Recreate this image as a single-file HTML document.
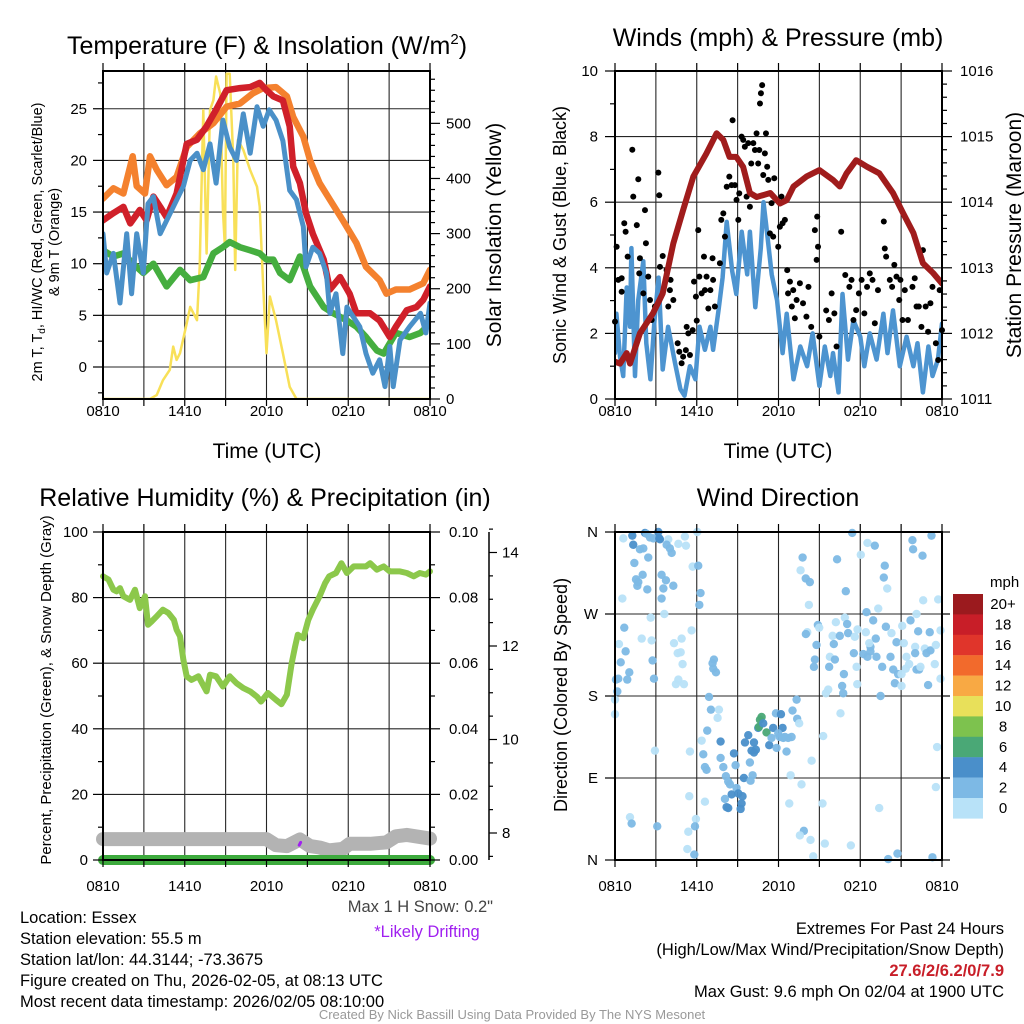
<!DOCTYPE html>
<html><head><meta charset="utf-8"><style>
html,body{margin:0;padding:0;background:#fff;}
svg{display:block;font-family:"Liberation Sans",Arial,sans-serif;}
</style></head><body>
<svg id="fig" width="1024" height="1024" viewBox="0 0 1024 1024" xmlns="http://www.w3.org/2000/svg">
<rect x="0" y="0" width="1024" height="1024" fill="#fff"/>
<g id="grids"></g>
<g id="series"></g>
<g id="axes"></g>
<g id="texts" font-size="14" fill="#000">
<text x="267" y="54" font-size="25" text-anchor="middle">Temperature (F) &amp; Insolation (W/m<tspan font-size="15" dy="-10">2</tspan><tspan dy="10">)</tspan></text>
<text x="778" y="46" font-size="25" text-anchor="middle">Winds (mph) &amp; Pressure (mb)</text>
<text x="265" y="506" font-size="25" text-anchor="middle">Relative Humidity (%) &amp; Precipitation (in)</text>
<text x="778" y="506" font-size="25" text-anchor="middle">Wind Direction</text>
<text x="267" y="458" font-size="21" text-anchor="middle">Time (UTC)</text>
<text x="778" y="458" font-size="21" text-anchor="middle">Time (UTC)</text>
<text transform="translate(42,242) rotate(-90)" font-size="14.5" text-anchor="middle">2m T, T<tspan font-size="10" dy="3">d</tspan><tspan dy="-3">, HI/WC (Red, Green, Scarlet/Blue)</tspan></text>
<text transform="translate(59,242) rotate(-90)" font-size="14.5" text-anchor="middle">&amp; 9m T (Orange)</text>
<text transform="translate(501,235) rotate(-90)" font-size="21" text-anchor="middle">Solar Insolation (Yellow)</text>
<text transform="translate(566,235) rotate(-90)" font-size="18" text-anchor="middle">Sonic Wind &amp; Gust (Blue, Black)</text>
<text transform="translate(1021,235) rotate(-90)" font-size="21" text-anchor="middle">Station Pressure (Maroon)</text>
<text transform="translate(51,690) rotate(-90)" font-size="15" text-anchor="middle">Percent, Precipitation (Green), &amp; Snow Depth (Gray)</text>
<text transform="translate(567,695) rotate(-90)" font-size="18" text-anchor="middle">Direction (Colored By Speed)</text>
<text x="493" y="912" font-size="16.5" text-anchor="end" fill="#444">Max 1 H Snow: 0.2"</text>
<text x="427" y="937" font-size="16.5" text-anchor="middle" fill="#a020f0">*Likely Drifting</text>
<g font-size="16.5">
<text x="20" y="923">Location: Essex</text>
<text x="20" y="944">Station elevation: 55.5 m</text>
<text x="20" y="965">Station lat/lon: 44.3144; -73.3675</text>
<text x="20" y="986">Figure created on Thu, 2026-02-05, at 08:13 UTC</text>
<text x="20" y="1007">Most recent data timestamp: 2026/02/05 08:10:00</text>
</g>
<g font-size="16.5" text-anchor="end">
<text x="1004" y="934">Extremes For Past 24 Hours</text>
<text x="1004" y="955">(High/Low/Max Wind/Precipitation/Snow Depth)</text>
<text x="1004" y="976" fill="#c81e28" font-weight="bold">27.6/2/6.2/0/7.9</text>
<text x="1004" y="997">Max Gust: 9.6 mph On 02/04 at 1900 UTC</text>
</g>
<text x="512" y="1019" font-size="13" text-anchor="middle" fill="#999">Created By Nick Bassill Using Data Provided By The NYS Mesonet</text>
</g>
</svg>
<script>
// ---------- Panel 1 data ----------
const orangeT=[0,0.76,1.5,2.18,2.47,3.08,3.45,3.94,4.67,5.4,6.14,7.1,8.1,9.07,10.05,11.0,11.76,12.7,13.5,13.96,14.7,15.2,15.9,16.65,17.6,18.6,19.3,20.3,20.8,21.5,22.5,23.5,24];
const orangeV=[16.3,17.3,16.8,20.4,17.5,16.8,20.4,19.1,17.6,18.4,21.3,22.6,23.6,25.2,25.5,26.5,27.0,27.1,26.2,24.2,22.3,20.0,17.8,16.2,14.2,12.0,9.7,8.4,7.1,7.5,7.5,8.1,9.4];
const redT=[0,0.76,1.5,2,2.7,3.2,3.7,4.2,4.67,5.4,6.14,6.9,7.6,8.3,9.07,10.05,10.8,11.5,12.0,12.5,13.2,13.7,13.96,14.45,14.9,15.4,16.2,16.65,17.4,18.1,18.6,19.6,20.3,21.05,21.5,22.3,23.0,23.5,24];
const redV=[14.2,14.9,15.5,13.9,15.2,14.2,16.5,15.5,14.5,16.8,21.6,22.0,23.3,24.9,26.8,27.0,27.1,27.5,26.8,26.2,25.8,23.3,19.4,17.8,14.9,12.9,10.4,7.5,8.7,7.1,5.2,5.2,4.5,2.9,3.9,5.5,5.8,6.5,7.8];
const greenT=[0,0.76,1.5,2.2,2.96,3.7,4.67,5.65,6.4,7.36,8.1,8.8,9.3,10.05,10.8,11.5,12.0,12.5,13.0,13.7,14.45,15.2,16.2,16.9,17.9,18.6,19.3,20.1,20.6,21.5,22.5,23.3,24];
const greenV=[11.3,10.7,11.0,10.0,9.1,10.0,7.8,9.4,8.4,8.7,11.0,11.6,12.1,11.6,11.3,11.0,10.4,10.4,9.1,8.4,10.7,7.8,5.8,5.2,4.5,3.9,2.9,1.6,1.3,3.3,2.9,3.3,4.2];
const blueT=[0,0.27,0.76,1.25,1.74,2.1,2.47,2.96,3.3,3.7,4.2,5.9,6.4,6.9,7.36,7.85,8.3,8.8,9.3,9.8,10.3,10.8,11.3,11.76,12.2,12.7,13.2,13.7,14.2,14.7,14.9,15.4,15.9,16.4,16.65,17.1,17.6,17.9,18.4,18.85,19.3,19.8,20.3,20.7,21.05,21.3,21.8,22.5,23.3,23.7,24];
const blueV=[12.9,9.1,11.0,6.2,12.9,7.1,12.9,9.1,15.8,16.5,12.9,17.5,20.0,20.7,19.1,21.6,17.8,23.9,21.3,20.0,24.5,20.7,25.2,23.3,24.9,23.9,21.9,17.1,16.2,13.6,9.7,11.6,11.0,9.1,5.2,7.1,1.3,5.8,4.8,3.9,1.3,-0.6,0.7,-1.9,2.0,-1.9,2.6,3.9,5.2,3.3,6.2];
const solarT=[0,3.45,3.94,4.4,4.9,5.15,5.4,5.65,6.14,6.4,6.9,7.1,7.36,7.6,7.85,8.1,8.3,8.6,8.8,8.95,9.07,9.3,9.56,9.7,9.9,10.3,10.8,11.3,11.5,11.76,12.0,12.25,12.7,13.2,13.7,14.2,24];
const solarV=[0,0,7,34,53,95,71,83,137,167,143,240,524,264,524,542,585,554,343,276,590,590,433,234,470,452,415,385,349,204,83,186,143,83,22,0,0];
const tempYTicks=[0,5,10,15,20,25];
const solarTicks=[0,100,200,300,400,500];
const timeTickHours=[0,6,12,18,24];
const timeTickLabels=["0810","1410","2010","0210","0810"];
// ---------- Panel 2 data ----------
const presT=[0,0.37,0.86,1.1,1.83,2.8,3.5,4.28,5.0,5.75,6.7,7.46,7.95,8.4,8.9,9.4,9.9,10.4,11.4,12.1,12.6,13.1,14.05,15.0,16.0,16.5,17.0,17.7,18.5,19.4,20.4,21.15,21.9,22.6,23.35,24];
const presV=[1011.57,1011.54,1011.70,1011.54,1012.0,1012.31,1012.61,1013.37,1013.88,1014.39,1014.74,1015.05,1014.95,1014.69,1014.69,1014.54,1014.14,1014.08,1014.14,1013.98,1014.03,1014.24,1014.39,1014.49,1014.34,1014.24,1014.44,1014.64,1014.54,1014.44,1014.14,1013.83,1013.53,1013.07,1012.92,1012.76];
const windT=[0,0.1,0.37,0.6,0.86,1.1,1.2,1.47,1.7,2.08,2.3,2.6,2.9,3.2,3.5,3.9,4.4,4.8,5.1,5.5,5.9,6.2,6.6,7.0,7.2,7.6,7.9,8.2,8.6,8.9,9.3,9.7,9.9,10.3,10.7,10.9,11.1,11.5,11.9,12.3,12.6,13.1,13.6,14.1,14.5,15.0,15.4,15.8,16.0,16.4,16.7,17.1,17.5,18.0,18.3,18.7,19.2,19.7,20.0,20.4,20.9,21.4,21.9,22.2,22.6,23.0,23.3,23.7,24];
const windV=[1.4,2.6,1.3,0.7,3.4,2.2,4.6,0.7,3.0,4.2,1.7,0.6,2.4,3.7,0.9,2.2,1.1,0.3,0.1,1.0,0.6,2.2,1.5,2.2,1.5,2.7,3.7,5.4,3.9,3.2,5.1,3.8,5.1,2.8,4.6,6.0,5.3,3.8,3.0,1.4,2.6,0.6,1.6,1.0,2.0,0.4,1.6,0.7,1.4,0.2,3.2,1.2,2.4,1.9,1.0,2.0,1.2,2.6,1.4,2.7,1.0,1.9,1.0,1.7,0.2,1.6,0.7,1.2,2.3];
const gustT=[0,0.12,0.24,0.49,0.49,0.68,0.78,0.93,1.27,1.34,1.6,1.71,1.78,1.83,2.08,2.2,2.27,2.44,2.57,2.69,2.93,3.18,3.25,3.3,3.5,3.79,3.91,4.03,4.08,4.28,4.6,4.72,4.89,5.0,5.2,5.26,5.38,5.5,5.7,5.8,5.94,6.0,6.11,6.19,6.36,6.53,6.6,6.72,6.85,7.0,7.16,7.2,7.33,7.7,7.8,7.95,8.07,8.2,8.39,8.56,8.63,8.8,8.92,9.05,9.12,9.29,9.41,9.53,9.66,9.78,9.9,10.0,10.15,10.27,10.39,10.51,10.59,10.64,10.71,10.8,10.88,11.0,11.08,11.17,11.25,11.37,11.49,11.61,11.69,11.98,12.1,12.22,12.3,12.47,12.64,12.7,12.84,12.98,13.08,13.2,13.33,13.57,13.8,14.05,14.2,14.4,14.67,14.8,14.84,14.9,15.0,15.5,15.7,15.9,16.1,16.26,16.6,16.9,17.2,17.36,17.5,17.7,17.9,18.1,18.3,18.5,18.7,18.9,19.07,19.3,19.73,19.8,19.9,20.17,20.34,20.5,20.66,20.86,20.95,21.1,21.27,21.5,21.83,22.0,22.13,22.3,22.49,22.6,22.8,22.98,23.15,23.3,23.55,23.72,23.83,24];
const gustV=[2.36,4.64,3.63,3.68,3.27,5.36,5.1,4.34,7.6,6.17,5.3,6.7,3.83,4.29,3.22,5.76,4.75,3.73,3.02,2.41,2.82,6.9,6.21,4.03,4.36,3.93,2.82,3.32,3.63,3.02,1.7,1.44,1.09,1.29,1.49,2.2,2.0,1.34,2.1,3.58,3.12,2.39,5.15,3.73,3.22,4.34,3.32,3.73,2.76,3.32,4.29,3.63,2.82,4.14,5.46,5.66,4.95,6.47,6.78,6.52,8.5,6.52,6.07,5.46,6.27,8.0,7.9,7.69,6.17,7.8,5.86,7.18,7.8,7.59,8.1,7.18,7.59,9.01,9.32,9.57,6.83,7.49,8.1,7.08,6.68,5.05,5.97,4.95,6.73,4.64,5.25,6.17,5.36,5.46,3.93,3.22,3.58,2.82,3.32,2.46,3.02,3.53,2.92,2.51,3.42,2.2,5.15,4.24,5.56,4.64,1.9,2.7,2.41,3.22,2.61,1.6,5.1,3.78,3.42,3.63,2.41,2.71,3.22,3.63,2.61,3.42,3.83,3.63,2.31,3.32,5.41,4.59,4.34,3.63,3.42,4.09,3.73,3.02,3.63,2.41,3.32,2.41,3.42,3.68,2.82,2.82,2.2,4.54,2.82,2.05,2.92,3.42,1.7,1.19,3.32,2.1];
const windTicks=[0,2,4,6,8,10];
const presTicks=[1011,1012,1013,1014,1015,1016];
// ---------- Panel 3 data ----------
const rhT=[0,0.4,0.76,1.0,1.25,1.5,1.98,2.35,2.7,3.08,3.3,3.57,3.94,4.4,4.8,5.2,5.4,5.65,5.9,6.14,6.5,7.0,7.6,7.85,8.3,8.8,9.3,9.8,10.3,10.8,11.3,11.6,12.1,12.7,13.1,13.5,13.85,14.1,14.3,14.7,15.07,15.4,15.9,16.3,16.6,17.1,17.5,17.9,18.4,18.85,19.3,19.6,20.1,20.6,21.05,21.8,22.3,22.8,23.25,23.7,24];
const rhV=[86.5,85.5,82.4,81.9,82.9,80.4,79.3,82.4,76.8,80.4,71.7,72.7,74.3,76.3,75.3,73.2,70.2,68.2,61.0,56.0,54.9,56.0,51.4,56.5,56.0,52.9,56.0,53.9,52.4,51.4,49.8,48.3,50.9,48.8,47.5,50.4,60.0,65.1,68.7,67.6,73.2,76.3,80.4,84.4,86.5,87.5,90.5,87.5,89.5,89.5,89.5,90.5,88.5,89.5,88.0,88.0,87.5,86.5,87.5,87.0,88.0];
const snowT=[0,12,12.7,13.5,14.45,15.2,15.9,16.6,17.6,18.1,19.6,20.8,21.5,22.3,24];
const snowV=[7.87,7.87,7.74,7.72,7.86,7.72,7.69,7.63,7.66,7.77,7.77,7.8,7.93,7.96,7.88];
const precipT=[0,24];
const precipV=[0,0];
const driftT=[14.4,14.5];
const driftV=[7.74,7.8];
const rhTicks=[0,20,40,60,80,100];
const precipTicks=[0,0.02,0.04,0.06,0.08,0.10];
const snowTicks=[8,10,12,14];
// ---------- Panel 4 data ----------
const dirT=[0.61,1.27,1.34,1.83,2.08,2.2,2.32,2.57,2.81,3.18,3.25,3.3,3.91,3.79,4.03,4.16,4.65,5.13,5.21,6.04,1.42,1.54,1.71,1.64,2.37,2.44,2.03,3.42,3.74,3.55,3.42,4.28,5.7,6.11,6.28,6.19,0.54,2.62,3.62,0.68,1.96,2.69,0.29,0.78,0.42,1.05,0.9,0.24,0.07,2.76,2.86,4.33,4.89,5.62,4.6,4.82,4.96,4.65,4.47,5.06,7.26,7.16,7.21,7.41,0.17,0,0,2.93,1.1,1.22,3.1,5.45,5.5,5.94,5.87,5.38,5.31,5.82,6.6,6.9,7.04,7.63,7.53,6.77,6.36,6.48,6.6,6.72,7.75,7.75,7.95,8.14,8.31,8.44,8.56,8.92,9.05,9.36,9.29,9.22,8.31,8.19,8.07,8.73,8.85,9.46,9.95,10.1,9.9,9.54,9.78,10.2,10.02,10.34,10.2,10.51,10.64,10.76,10.56,10.88,11.12,11.32,11.49,11.61,11.81,12.18,12.3,11.98,12.1,12.35,12.47,12.71,12.96,12.59,11.86,13.03,13.33,13.37,13.52,12.89,12.79,13.69,13.86,13.57,14.35,14.55,15.4,15.23,15.28,14.43,17.31,16.55,19.39,20.05,20.73,23.3,23.55,23.64,13.77,13.62,14.0,14.3,14.23,16.3,16.94,17.41,18.04,18.53,19.07,19.8,19.73,19.98,19.32,18.46,16.87,16.21,17.04,14.89,14.99,14.11,14.01,15.97,16.5,17.11,17.6,17.8,18.41,19.14,18.95,19.88,20.29,21.08,21.69,22.13,22.62,23.72,22.57,21.83,21.88,23.23,14.79,16.06,18.75,18.66,20.66,21.2,22.03,22.74,23.15,23.55,23.89,23.1,22.25,14.67,14.6,15.77,15.72,16.14,17.53,17.73,18.22,18.53,18.75,19.19,19.61,20.22,20.42,20.78,20.54,21.03,21.34,21.03,21.59,22.13,22.32,22.42,22.86,23.47,23.89,22.98,21.39,22.03,19.49,16.8,16.67,16.75,17.78,15.65,15.48];
const dirV=[353,356,346,341,342,359,358,354,353,360,353,352,352,346,342,337,347,355,345,360,326,308,305,301,297,332,313,313,307,298,287,301,322,323,293,280,287,266,270,255,243,241,237,229,217,206,198,199,198,219,199,238,243,252,227,228,215,198,193,193,220,216,210,206,185,176,160,120,47,40,37,70,119,45,37,31,12,6,64,179,165,165,156,142,131,116,102,99,130,112,102,92,86,83,72,79,73,70,62,56,57,58,67,117,104,90,87,93,107,129,137,129,120,121,118,145,154,157,146,150,140,126,134,145,161,160,145,139,135,134,135,134,135,119,123,164,176,155,150,93,62,83,32,27,22,4,18,62,136,109,16,161,57,1,7,3,80,124,332,318,309,305,280,330,295,359,335,348,345,323,310,298,276,272,266,261,259,258,255,250,248,246,246,249,245,253,250,243,263,256,249,257,263,270,285,286,334,351,341,356,236,237,234,238,239,238,234,232,230,236,252,250,251,220,212,223,212,220,227,212,226,223,229,223,212,223,209,204,194,191,210,204,215,209,209,212,227,215,199,192,223,227,180,204,191,183,193,187,183];
const dirS=[1,5,5,3,3,5,3,3,3,5,5,5,1,3,3,3,1,1,1,1,3,3,3,3,3,3,3,3,3,3,3,3,1,3,3,3,1,1,1,3,1,1,1,3,3,3,3,3,3,3,3,1,1,1,1,1,1,1,1,1,3,3,3,3,3,1,1,1,1,3,3,1,1,1,3,1,1,3,1,3,3,1,1,3,1,3,3,3,5,3,3,3,3,3,5,3,5,5,5,5,5,5,3,5,3,5,3,3,3,5,5,5,5,5,5,5,7,7,7,5,7,5,3,5,3,5,5,3,3,3,3,3,3,3,3,3,3,3,1,1,1,1,3,1,1,1,1,1,1,1,1,1,1,3,3,3,1,1,3,1,3,3,1,3,3,3,1,1,3,3,3,1,1,3,1,1,3,3,1,1,3,1,3,3,1,1,1,3,3,3,1,1,3,1,1,1,3,3,3,3,3,3,3,1,3,1,1,1,3,1,1,3,3,3,3,1,3,3,3,1,3,3,3,3,3,3,3,3,3,1,1,1,1,3,3,1,3,1,1,3,1,3,3,3,3,3,1];
const dirTicks=[0,90,180,270,360];
const dirTickLabels=["N","E","S","W","N"];
const speedBins=[0,2,4,6,8,10,12,14,16,18,20];
const speedBinLabels=["0","2","4","6","8","10","12","14","16","18","20+"];
const speedColors=["#b8e2f8","#7db9e5","#4a8fca","#4aa876","#7dc24e","#e8e05a","#f8a944","#f26a2c","#e0352b","#c81e28","#9b1a1e"];

// ---------- scales ----------
const NS="http://www.w3.org/2000/svg";
const X1=t=>103+t*13.625, X2=t=>615+t*13.625;
const YT=v=>367-v*10.33, YSol=v=>399-v*0.5513;
const YW=v=>399-v*32.8, YP=p=>399-(p-1011)*65.6;
const YR=v=>860-v*3.28, YPr=v=>860-v*3280, YSn=s=>833-(s-8)*46.75;
const YD=d=>860-d*0.9111;
const G=id=>document.getElementById(id);
function mk(tag,attrs,parent){const e=document.createElementNS(NS,tag);for(const k in attrs)e.setAttribute(k,attrs[k]);parent.appendChild(e);return e;}
function poly(ts,vs,xf,yf,color,w,name,clip){
  const pts=ts.map((t,i)=>xf(t).toFixed(1)+","+yf(vs[i]).toFixed(1)).join(" ");
  const e=mk("polyline",{points:pts,fill:"none",stroke:color,"stroke-width":w,"stroke-linejoin":"round","stroke-linecap":"round"},G("series"));
  if(clip)e.setAttribute("clip-path",clip);
  
  
  return e;
}
const defs=mk("defs",{},G("fig"));
[["c1",103,71,327,328],["c2",615,71,327,328],["c3",90,525,355,345]].forEach(c=>{const cp=mk("clipPath",{id:c[0]},defs);mk("rect",{x:c[1],y:c[2],width:c[3],height:c[4]},cp);});

// ---------- grids ----------
function grid(x0,x1,y0,y1,ys,name){
  const g=mk("g",{stroke:"#000","stroke-width":1.1,opacity:0.85},G("grids"));
  
  
  for(let h=3;h<24;h+=3){const x=x0+h*13.625;mk("line",{x1:x,y1:y0,x2:x,y2:y1},g);}
  ys.forEach(y=>mk("line",{x1:x0,y1:y,x2:x1,y2:y},g));
}
grid(103,430,71,399,tempYTicks.map(YT),"temp-grid");
grid(615,942,71,399,windTicks.slice(1,5).map(YW),"wind-grid");
grid(103,430,532,860,rhTicks.slice(1,5).map(YR),"rh-grid");
grid(615,942,532,860,dirTicks.slice(1,4).map(YD),"direction-grid");

// ---------- series ----------
poly(solarT,solarV,X1,YSol,"#f8e058",2.5,"solar-line","url(#c1)");
poly(orangeT,orangeV,X1,YT,"#f4812e",6.5,"9m-temp-line","url(#c1)");
poly(greenT,greenV,X1,YT,"#45ae3f",6.5,"dewpoint-line","url(#c1)");
poly(redT,redV,X1,YT,"#d0202a",6.5,"2m-temp-line","url(#c1)");
poly(blueT,blueV,X1,YT,"#4a90c8",5,"windchill-line","url(#c1)");
poly(windT,windV,X2,YW,"#4d94d0",4.5,"sonic-wind-line","url(#c2)");
gustT.forEach((t,i)=>{const c=mk("circle",{cx:X2(t),cy:YW(gustV[i]),r:3,fill:"#000"},G("series"));
  
  });
poly(presT,presV,X2,YP,"#a01c1c",6,"pressure-line","url(#c2)");
poly(snowT,snowV,X1,YSn,"#b3b3b3",14,"snow-depth-line","url(#c3)");
poly(precipT,precipV,X1,YPr,"#3daa3d",10,"precip-line","url(#c3)");
poly(rhT,rhV,X1,YR,"#8cc84b",6,"rh-line","url(#c3)");
poly(driftT,driftV,X1,YSn,"#a020f0",3,"drift-marker","url(#c3)");
dirT.forEach((t,i)=>{let b=0;for(let k=0;k<speedBins.length;k++)if(dirS[i]>=speedBins[k])b=k;
  const c=mk("circle",{cx:X2(t),cy:YD(dirV[i]),r:4.2,fill:speedColors[b],opacity:0.95},G("series"));
  
  });

// ---------- axes ----------
function frame(x0,y0,x1,y1,name){const r=mk("rect",{x:x0,y:y0,width:x1-x0,height:y1-y0,fill:"none",stroke:"#000","stroke-width":2},G("axes"));
  
  }
function ytick(x,y,len,side,label,lx,anchor,name){
  const g=G("axes");mk("line",{x1:x,y1:y,x2:x+side*len,y2:y,stroke:"#000","stroke-width":1.2},g);
  if(label!==null){const t=mk("text",{x:lx,y:y+5,"font-size":15,"text-anchor":anchor},g);t.textContent=label;
  
  }
}
function xticks(x0,yTop,yBot,lblY,name){
  for(let h=0;h<=24;h+=3){const x=x0+h*13.625;
    mk("line",{x1:x,y1:yTop,x2:x,y2:yTop-8,stroke:"#000","stroke-width":1.2},G("axes"));
    mk("line",{x1:x,y1:yBot,x2:x,y2:yBot+7,stroke:"#000","stroke-width":1.2},G("axes"));}
  timeTickHours.forEach((h,i)=>{const t=mk("text",{x:x0+h*13.625,y:lblY,"font-size":15,"text-anchor":"middle"},G("axes"));t.textContent=timeTickLabels[i];
    
    });
}
frame(103,71,430,399,"temp-plot-frame");
xticks(103,71,399,416,"temp-x-tick-label");
for(let v=-2.5;v<=27.5;v+=2.5){const maj=(v%5===0);ytick(103,YT(v),maj?10:5,-1,maj?String(v):null,87,"end","temp-y-tick-label");}
for(let v=0;v<=590;v+=20){const maj=(v%100===0);ytick(430,YSol(v),maj?10:5,1,maj?String(v):null,446,"start","solar-y-tick-label");}
frame(615,71,942,399,"wind-plot-frame");
xticks(615,71,399,416,"wind-x-tick-label");
for(let v=0;v<=10;v+=1){const maj=(v%2===0);ytick(615,YW(v),maj?10:5,-1,maj?String(v):null,598,"end","wind-y-tick-label");}
for(let p=1011;p<=1016.01;p+=0.2){const maj=Math.abs(p-Math.round(p))<0.01;ytick(942,YP(p),maj?10:5,1,maj?String(Math.round(p)):null,960,"start","pressure-y-tick-label");}
frame(103,532,430,860,"rh-plot-frame");
xticks(103,532,860,891,"rh-x-tick-label");
for(let v=0;v<=100;v+=10){const maj=(v%20===0);ytick(103,YR(v),maj?10:5,-1,maj?String(v):null,88,"end","rh-y-tick-label");}
for(let k=0;k<=10;k++){const v=k/100;const maj=(k%2===0);ytick(430,YPr(v),maj?10:5,1,maj?v.toFixed(2):null,449,"start","precip-y-tick-label");}
mk("line",{x1:489,y1:532,x2:489,y2:860,stroke:"#000","stroke-width":1.5},G("axes"));
for(let s=7.5;s<=14.6;s+=0.5){const maj=(Math.abs(s-Math.round(s))<0.01)&&Math.round(s)%2===0;ytick(489,YSn(s),maj?8:4,1,maj?String(Math.round(s)):null,502,"start","snow-y-tick-label");}
frame(615,532,942,860,"direction-plot-frame");
xticks(615,532,860,891,"direction-x-tick-label");
dirTicks.forEach((d,i)=>ytick(615,YD(d),10,-1,dirTickLabels[i],598,"end","direction-y-tick-label"));
for(let d=0;d<=360;d+=90){ytick(942,YD(d),8,1,null,0,"start","");}
const cb=mk("g",{},G("axes"));


const cbt=mk("text",{x:990,y:587,"font-size":15},cb);cbt.textContent="mph";
speedColors.slice().reverse().forEach((c,i)=>{const y=594+i*20.4;mk("rect",{x:953,y:y,width:30,height:20.6,fill:c},cb);
  const t=mk("text",{x:1003,y:y+15,"font-size":15,"text-anchor":"middle"},cb);t.textContent=speedBinLabels[speedBinLabels.length-1-i];
  
  });
</script>
</body></html>
